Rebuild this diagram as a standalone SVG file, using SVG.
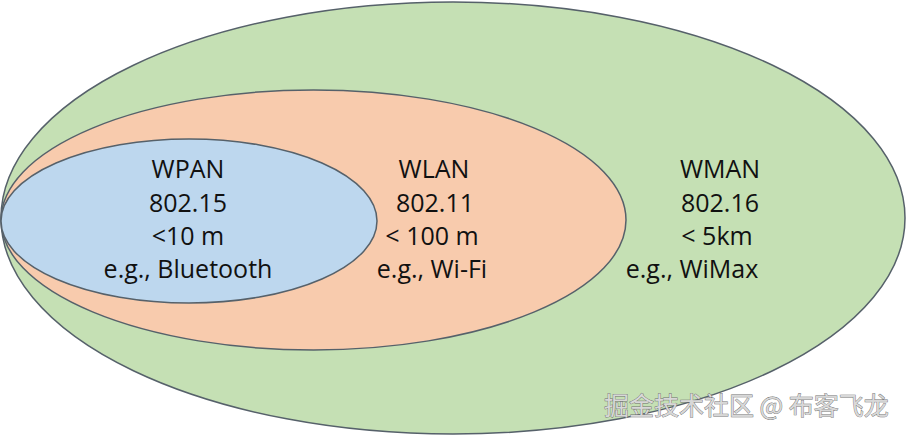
<svg xmlns="http://www.w3.org/2000/svg" width="907" height="437" viewBox="0 0 907 437">
  <style>
    .ring { stroke: #56616a; stroke-width: 1.5; }
    .lbl { font-family: "Open Sans", "Liberation Sans", sans-serif; font-size: 25px; fill: #111; text-anchor: middle; }
    .wm { font-family: "Noto Sans CJK SC", "Liberation Sans", sans-serif; font-size: 25px; fill: #d8d8d8; stroke: #6f6f6f; stroke-width: 0.8; paint-order: stroke; }
  </style>
  <rect width="907" height="437" fill="#ffffff"/>
  <g id="wman">
    <ellipse class="ring" cx="453" cy="218" rx="452" ry="216" fill="#c5e0b4"/>
    <text class="lbl" x="720" y="178">WMAN</text>
    <text class="lbl" x="720" y="212">802.16</text>
    <text class="lbl" x="717" y="245">&lt; 5km</text>
    <text class="lbl" x="692" y="278">e.g., WiMax</text>
  </g>
  <g id="wlan">
    <ellipse class="ring" cx="313.5" cy="220" rx="312.5" ry="130" fill="#f8cbad"/>
    <text class="lbl" x="434" y="178">WLAN</text>
    <text class="lbl" x="435" y="212">802.11</text>
    <text class="lbl" x="432" y="245">&lt; 100 m</text>
    <text class="lbl" x="432" y="278">e.g., Wi-Fi</text>
  </g>
  <g id="wpan">
    <ellipse class="ring" cx="189" cy="221" rx="188" ry="82" fill="#bdd7ee"/>
    <text class="lbl" x="188" y="178">WPAN</text>
    <text class="lbl" x="188" y="212">802.15</text>
    <text class="lbl" x="188" y="245">&lt;10 m</text>
    <text class="lbl" x="188" y="278">e.g., Bluetooth</text>
  </g>
  <g id="connectors"></g>
  <g id="watermark">
    <text class="wm" x="604" y="415">掘金技术社区 @ 布客飞龙</text>
  </g>
</svg>
